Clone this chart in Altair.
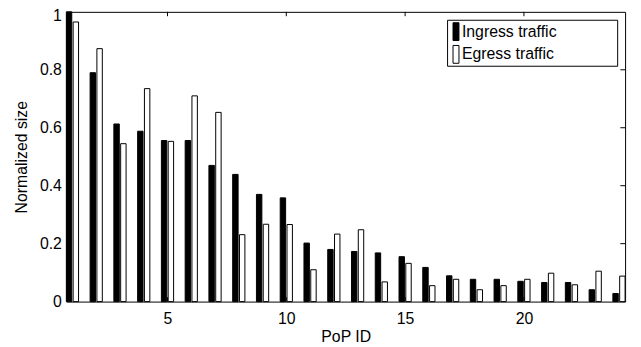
import altair as alt
import pandas as pd

# ---- data ----
pop_ids = list(range(1, 25))
ingress = [1.0, 0.79, 0.613, 0.588, 0.556, 0.556, 0.47, 0.439, 0.37, 0.358,
           0.202, 0.18, 0.173, 0.168, 0.155, 0.118, 0.089, 0.077, 0.077, 0.07,
           0.066, 0.066, 0.041, 0.028]
egress = [0.965, 0.873, 0.545, 0.735, 0.553, 0.71, 0.653, 0.231, 0.267, 0.266,
          0.11, 0.233, 0.248, 0.068, 0.132, 0.055, 0.077, 0.041, 0.055, 0.077,
          0.098, 0.058, 0.105, 0.088]
series_names = ["Ingress traffic", "Egress traffic"]
x_ticks = [5, 10, 15, 20]
y_ticks = [0, 0.2, 0.4, 0.6, 0.8, 1]

x_min, x_max = 0.743, 24.257
FONT = "Liberation Sans"

rows = []
for p, a, b in zip(pop_ids, ingress, egress):
    rows.append({"pop": p, "series": series_names[0], "value": a})
    rows.append({"pop": p, "series": series_names[1], "value": b})
df = pd.DataFrame(rows)

xscale = alt.Scale(domain=[x_min, x_max], nice=False, zero=False)
yscale = alt.Scale(domain=[0, 1], nice=False)
xaxis = alt.Axis(values=x_ticks, title="PoP ID", format="d",
                 labelPadding=9, titlePadding=2)
yaxis = alt.Axis(values=y_ticks, title="Normalized size", format=".1~f",
                 labelPadding=5, titlePadding=10,
                 labelOffset={"condition": {"test": "datum.value === 1", "value": 4},
                              "value": 0})

bars = alt.Chart(df).transform_calculate(
    x0="datum.pop + (datum.series === 'Ingress traffic' ? -0.257 : 0.029)",
    x1="datum.pop + (datum.series === 'Ingress traffic' ? -0.029 : 0.257)",
).mark_rect(stroke="black", strokeWidth=1).encode(
    x=alt.X("x0:Q", scale=xscale, axis=xaxis),
    x2="x1:Q",
    y=alt.Y("value:Q", scale=yscale, axis=yaxis),
    y2=alt.datum(0),
    color=alt.Color("series:N",
                    scale=alt.Scale(domain=series_names, range=["black", "white"]),
                    legend=alt.Legend(orient="none", legendX=384, legendY=12,
                                      title=None, symbolType="M-0.33,-3H1.67V3H-0.33Z",
                                      symbolSize=36, symbolStrokeColor="black",
                                      symbolStrokeWidth=1, labelFontSize=16,
                                      labelFont=FONT, labelColor="black",
                                      labelOffset=0, rowPadding=1, padding=0)),
)

# inward ticks on all four sides (MATLAB box style)
tick_rows = []
for t in x_ticks:
    tick_rows.append({"x": t, "x2": t, "y": 0, "y2": 0.015})
    tick_rows.append({"x": t, "x2": t, "y": 1, "y2": 0.985})
for t in y_ticks[1:-1]:
    tick_rows.append({"x": x_max, "x2": x_max - 0.2, "y": t, "y2": t})
    tick_rows.append({"x": x_min, "x2": x_min + 0.2, "y": t, "y2": t})
ticks = alt.Chart(pd.DataFrame(tick_rows)).mark_rule(color="black", strokeWidth=1).encode(
    x=alt.X("x:Q", scale=xscale, axis=xaxis),
    x2="x2:Q",
    y=alt.Y("y:Q", scale=yscale, axis=yaxis),
    y2="y2:Q",
)

legend_box = alt.Chart(alt.Data(values=[{}])).mark_rect(
    fill="white", stroke="black", strokeWidth=1
).encode(
    x=alt.value(385.5), x2=alt.value(557.5),
    y=alt.value(8.5), y2=alt.value(55),
)

chart = alt.layer(bars, ticks, legend_box).properties(
    width=565, height=293,
    autosize=alt.AutoSizeParams(type="none"),
    padding={"left": 59, "top": 2, "right": 8, "bottom": 42},
).configure_view(
    stroke="black", strokeWidth=1
).configure_axis(
    ticks=False, domain=False, grid=False,
    labelFont=FONT, labelFontSize=16, labelColor="black",
    titleFont=FONT, titleFontSize=16, titleFontWeight="normal", titleColor="black",
)

chart.save("out.html", embed_options={"renderer": "svg", "actions": False})
